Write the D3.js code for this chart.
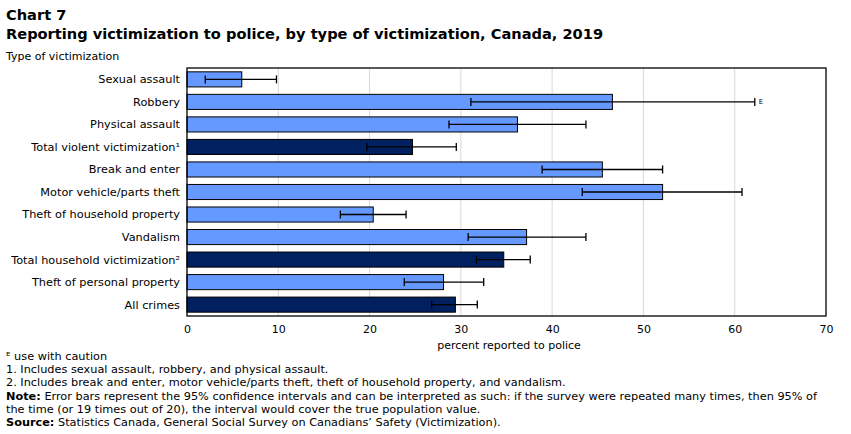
<!DOCTYPE html>
<html><head><meta charset="utf-8">
<script src="https://cdn.jsdelivr.net/npm/d3@7"></script>
<style>
body{margin:0;background:#fff;}
svg{font-family:"DejaVu Sans",Verdana,sans-serif;}
</style></head>
<body><svg id="c" width="851" height="434"></svg>
<script>
const categories = ["Sexual assault","Robbery","Physical assault","Total violent victimization\u00B9","Break and enter","Motor vehicle/parts theft","Theft of household property","Vandalism","Total household victimization\u00B2","Theft of personal property","All crimes"];
const values = [6.0,46.6,36.2,24.7,45.5,52.1,20.4,37.2,34.7,28.1,29.4];
const lower = [2.0,31.1,28.7,19.7,38.9,43.3,16.8,30.8,31.7,23.8,26.8];
const upper = [9.8,62.2,43.7,29.5,52.1,60.8,24.0,43.7,37.6,32.5,31.8];
const isTotal = [false,false,false,true,false,false,false,false,true,false,true];
const caution = [false,true,false,false,false,false,false,false,false,false,false];
const xTicks = [0,10,20,30,40,50,60,70];

const svg = d3.select("#c");
const m = {l:187,r:826,t:68,b:316};
const x = d3.scaleLinear().domain([0,70]).range([m.l,m.r]);
const y = d3.scaleBand().domain(categories).range([m.t,m.b]).paddingInner(0.33).paddingOuter(0.17);

svg.append("text").attr("x",6).attr("y",20).attr("font-size",14.6).attr("font-weight","bold").text("Chart 7");
svg.append("text").attr("x",6).attr("y",39).attr("font-size",14.6).attr("font-weight","bold").text("Reporting victimization to police, by type of victimization, Canada, 2019");
svg.append("text").attr("x",6).attr("y",60).attr("font-size",11).text("Type of victimization");

// grid
svg.append("g").selectAll("line").data(xTicks.slice(1,-1)).join("line")
  .attr("x1",d=>x(d)).attr("x2",d=>x(d)).attr("y1",m.t).attr("y2",m.b)
  .attr("stroke","#d9d9d9").attr("stroke-width",1);

// bars
const idx = d3.range(categories.length);
svg.append("g").selectAll("rect").data(idx).join("rect")
  .attr("x",x(0)).attr("y",i=>y(categories[i]))
  .attr("width",i=>x(values[i])-x(0)).attr("height",y.bandwidth())
  .attr("fill",i=>isTotal[i]?"#002060":"#6699ff").attr("stroke","#000").attr("stroke-width",1);

// error bars
const eg = svg.append("g").attr("stroke","#000").attr("stroke-width",1.3);
idx.forEach(i=>{
  const cy = y(categories[i])+y.bandwidth()/2;
  eg.append("line").attr("x1",x(lower[i])).attr("x2",x(upper[i])).attr("y1",cy).attr("y2",cy);
  eg.append("line").attr("x1",x(lower[i])).attr("x2",x(lower[i])).attr("y1",cy-4).attr("y2",cy+4);
  eg.append("line").attr("x1",x(upper[i])).attr("x2",x(upper[i])).attr("y1",cy-4).attr("y2",cy+4);
  if(caution[i]) svg.append("text").attr("x",x(upper[i])+4).attr("y",cy+2).attr("font-size",7).text("E");
});

// plot frame
svg.append("rect").attr("x",m.l).attr("y",m.t).attr("width",m.r-m.l).attr("height",m.b-m.t)
  .attr("fill","none").attr("stroke","#000").attr("stroke-width",1.3);

// y labels
svg.append("g").selectAll("text").data(categories).join("text")
  .attr("x",180).attr("y",d=>y(d)+y.bandwidth()/2).attr("dy","0.35em")
  .attr("text-anchor","end").attr("font-size",11.3).text(d=>d);

// x axis
const xa = svg.append("g").attr("transform",`translate(0,${m.b})`)
  .call(d3.axisBottom(x).tickValues(xTicks).tickSize(0).tickPadding(9));
xa.select(".domain").remove();
xa.selectAll("text").attr("font-size",11).attr("font-family","DejaVu Sans").attr("fill","#000");

svg.append("text").attr("x",509).attr("y",349).attr("text-anchor","middle").attr("font-size",11).text("percent reported to police");

const notes = [
  [null,"\u1D31 use with caution"],
  [null,"1. Includes sexual assault, robbery, and physical assault."],
  [null,"2. Includes break and enter, motor vehicle/parts theft, theft of household property, and vandalism."],
  ["Note:"," Error bars represent the 95% confidence intervals and can be interpreted as such: if the survey were repeated many times, then 95% of"],
  [null,"the time (or 19 times out of 20), the interval would cover the true population value."],
  ["Source:"," Statistics Canada, General Social Survey on Canadians\u2019 Safety (Victimization)."]
];
notes.forEach((n,i)=>{
  const t = svg.append("text").attr("x",6).attr("y",360+i*13.2).attr("font-size",11.3);
  if(n[0]) t.append("tspan").attr("font-weight","bold").text(n[0]);
  t.append("tspan").text(n[1]);
});
</script></body></html>
